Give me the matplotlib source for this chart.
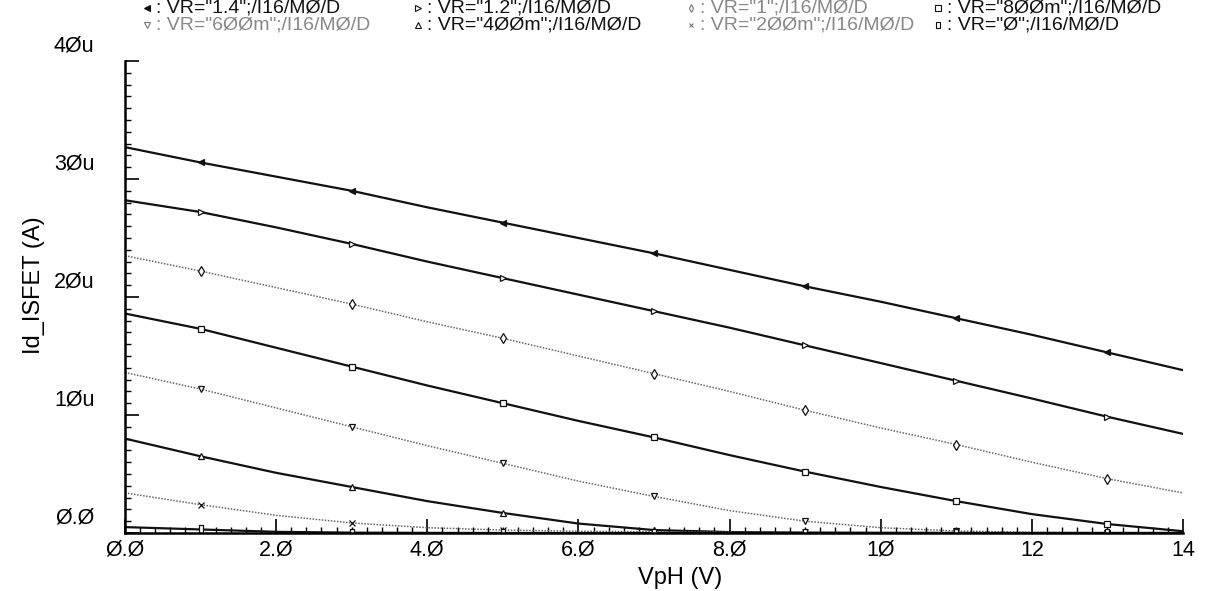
import numpy as np
import matplotlib
matplotlib.use("Agg")
import matplotlib.pyplot as plt
import matplotlib.transforms as mtransforms
from matplotlib.ticker import MultipleLocator

plt.rcParams["font.family"] = ["Liberation Sans", "DejaVu Sans"]

# VpH sweep (V)
vph = list(range(15))

# Id_ISFET in uA, one list per VR value, read at VpH = 0..14
id_vr_1p4 = [32.7, 31.4, 30.2, 29.0, 27.6, 26.3, 25.0, 23.7, 22.3, 20.9, 19.6, 18.2, 16.8, 15.3, 13.8]
id_vr_1p2 = [28.2, 27.2, 25.9, 24.5, 23.0, 21.6, 20.2, 18.8, 17.4, 15.9, 14.4, 12.9, 11.4, 9.85, 8.4]
id_vr_1 = [23.5, 22.2, 20.8, 19.4, 17.9, 16.5, 15.0, 13.5, 12.0, 10.4, 8.9, 7.5, 6.0, 4.6, 3.4]
id_vr_800m = [18.6, 17.3, 15.7, 14.1, 12.5, 11.0, 9.5, 8.1, 6.6, 5.2, 3.9, 2.7, 1.6, 0.76, 0.15]
id_vr_600m = [13.6, 12.2, 10.6, 9.0, 7.4, 5.9, 4.4, 3.1, 1.9, 1.0, 0.45, 0.17, 0.05, 0.02, 0.01]
id_vr_400m = [8.0, 6.5, 5.1, 3.9, 2.7, 1.7, 0.8, 0.25, 0.08, 0.03, 0.01, 0.0, 0.0, 0.0, 0.0]
id_vr_200m = [3.4, 2.4, 1.5, 0.85, 0.45, 0.25, 0.15, 0.1, 0.07, 0.05, 0.04, 0.03, 0.02, 0.02, 0.02]
id_vr_0 = [0.5, 0.3, 0.1, 0.03, 0.01, 0.0, 0.0, 0.0, 0.0, 0.0, 0.0, 0.0, 0.0, 0.0, 0.0]

legend_labels = ['VR="1.4";/I16/MØ/D', 'VR="1.2";/I16/MØ/D', 'VR="1";/I16/MØ/D', 'VR="8ØØm";/I16/MØ/D',
                 'VR="6ØØm";/I16/MØ/D', 'VR="4ØØm";/I16/MØ/D', 'VR="2ØØm";/I16/MØ/D', 'VR="Ø";/I16/MØ/D']

xtick_labels = ["Ø.Ø", "2.Ø", "4.Ø", "6.Ø", "8.Ø", "1Ø", "12", "14"]
ytick_labels = ["Ø.Ø", "1Øu", "2Øu", "3Øu", "4Øu"]

tall_rect = [(-0.45, -1), (0.45, -1), (0.45, 1), (-0.45, 1), (-0.45, -1)]

series = [id_vr_1p4, id_vr_1p2, id_vr_1, id_vr_800m, id_vr_600m, id_vr_400m, id_vr_200m, id_vr_0]
styles = [
    dict(ls="-", color="#111111", lw=1.6, marker="<", mfc="#111111", ms=5),
    dict(ls="-", color="#111111", lw=1.6, marker=">", mfc="white", ms=5),
    dict(ls=(0, (1, 1)), color="#666666", lw=1.1, marker="d", mfc="white", ms=5),
    dict(ls="-", color="#111111", lw=1.6, marker="s", mfc="white", ms=5),
    dict(ls=(0, (1, 1)), color="#666666", lw=1.1, marker="v", mfc="white", ms=5),
    dict(ls="-", color="#111111", lw=1.6, marker="^", mfc="white", ms=5),
    dict(ls=(0, (1, 1)), color="#666666", lw=1.1, marker="x", mfc="white", ms=4),
    dict(ls="-", color="#111111", lw=1.6, marker=tall_rect, mfc="white", ms=6),
]

fig = plt.figure(figsize=(12.07, 5.91), dpi=100)
ax = fig.add_axes([125 / 1207, 1 - 533 / 591, 1058 / 1207, 472 / 591])

x = np.array(vph)
for vals, st in zip(series, styles):
    ax.plot(x, np.array(vals) * 1e-6, markevery=slice(1, None, 2),
            mec="#111111", mew=0.9, **st)

ax.set_xlim(0, 14)
ax.set_ylim(0, 40e-6)
ax.set_xticks([0, 2, 4, 6, 8, 10, 12, 14], labels=xtick_labels)
ax.set_yticks([0, 10e-6, 20e-6, 30e-6, 40e-6], labels=ytick_labels)
ax.xaxis.set_minor_locator(MultipleLocator(0.2))
ax.yaxis.set_minor_locator(MultipleLocator(1e-6))
ax.tick_params(which="major", direction="in", length=10, width=1.2, labelsize=15.5)
ax.tick_params(which="minor", direction="in", length=4, width=1)
ax.tick_params(axis="y", pad=22)
ax.tick_params(axis="x", pad=5)

# labels on the scan sit a bit above their ticks
shift = mtransforms.ScaledTranslation(0, 0.18, fig.dpi_scale_trans)
for lab in ax.get_yticklabels():
    lab.set_transform(lab.get_transform() + shift)

for s in ["top", "right"]:
    ax.spines[s].set_visible(False)
ax.spines["left"].set_linewidth(1.8)
ax.spines["bottom"].set_linewidth(1.8)

ax.set_xlabel("VpH (V)", fontsize=17)
ax.xaxis.set_label_coords(0.525, -0.072)
ax.set_ylabel("Id_ISFET (A)", fontsize=17)
ax.yaxis.set_label_coords(-0.076, 0.525)

# two-row legend across the top
col_x = [147, 418, 691, 938]
row_y = [8, 25]
for i, (lab, st) in enumerate(zip(legend_labels, styles)):
    px = col_x[i % 4] / 1207
    py = 1 - row_y[i // 4] / 591
    grey = st["color"] != "#111111"
    fig.add_artist(plt.Line2D([px], [py], transform=fig.transFigure, ls="none",
                              marker=st["marker"], mfc=st["mfc"], mec="#111111" if not grey else "#777777",
                              ms=st["ms"] - 1, mew=0.8))
    fig.text(px + 9 / 1207, py, ": " + lab, fontsize=14, va="center", ha="left",
             color="#888888" if grey else "#111111")

fig.savefig("out.png", dpi=100)
